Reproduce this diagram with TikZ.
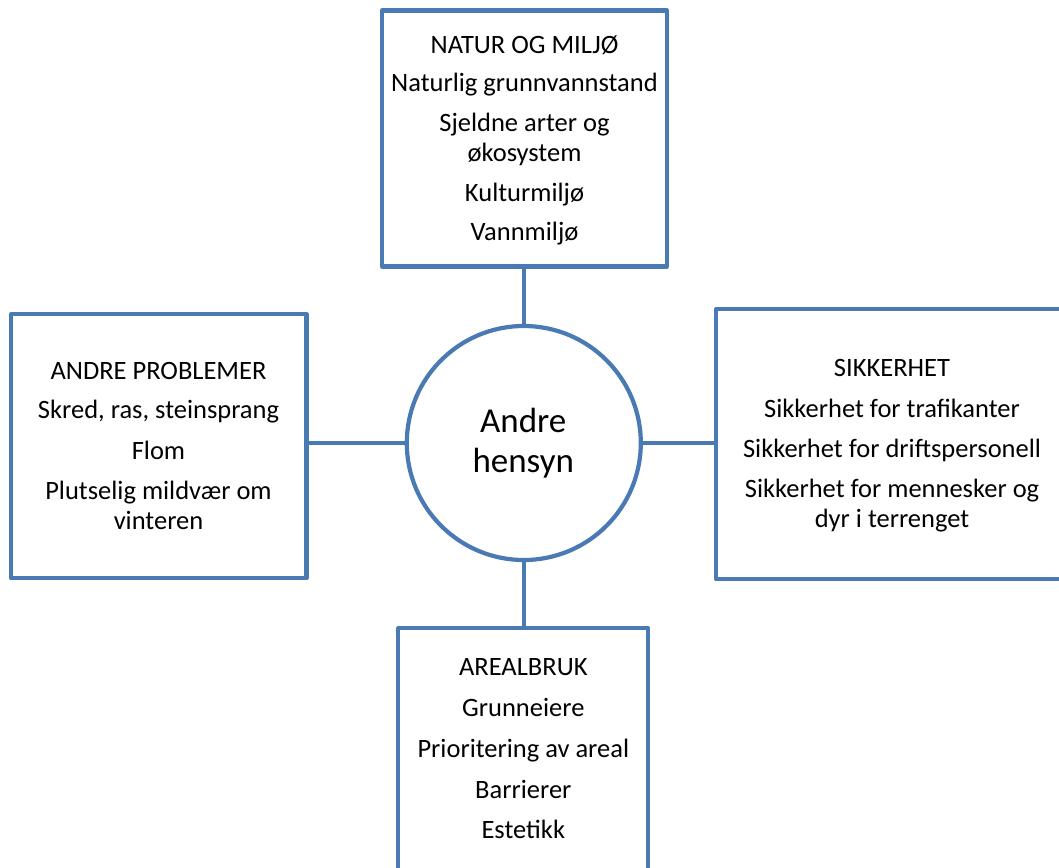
\documentclass[tikz,border=0pt]{standalone}
\usepackage{fontspec}
\setmainfont{Carlito}
\definecolor{boxblue}{RGB}{74,122,180}
\begin{document}
\begin{tikzpicture}[x=1pt,y=-1pt,
  frame/.style={draw=boxblue,line width=4.2pt,line join=round,fill=white,rectangle,inner sep=0pt},
  hubstyle/.style={draw=boxblue,line width=4.2pt,fill=white,circle,inner sep=0pt,minimum size=234pt},
  link/.style={draw=boxblue,line width=4.2pt},
  txt/.style={anchor=base,inner sep=0pt,font=\fontsize{26.5}{30}\selectfont},
  bigtxt/.style={anchor=base,inner sep=0pt,font=\fontsize{35}{40}\selectfont}]
\useasboundingbox[fill=white] (0,0) rectangle (1059,867);
% boxes
\node[frame,minimum width=285pt,minimum height=256pt] (top) at (524.5,138.5) {};
\node[frame,minimum width=295.5pt,minimum height=264pt] (left) at (158.8,446.3) {};
\node[frame,minimum width=356pt,minimum height=270pt] (right) at (894,444.3) {};
\node[frame,minimum width=250pt,minimum height=260pt] (bottom) at (523.3,758.3) {};
\node[hubstyle] (hub) at (523.8,443) {};
% connectors
\draw[link] (hub.north) -- (hub.north |- top.south);
\draw[link] (hub.south) -- (hub.south |- bottom.north);
\draw[link] (hub.west) -- (hub.west -| left.east);
\draw[link] (hub.east) -- (hub.east -| right.west);
% hub text
\node[bigtxt] (h1) at (523.3,432.3) {Andre};
\node[bigtxt] (h2) at (523.3,472.7) {hensyn};
% top box text
\node[txt] (a1) at (524.5,53) {NATUR OG MILJØ};
\node[txt] (a2) at (524.5,91.5) {Naturlig grunnvannstand};
\node[txt] (a3) at (524.5,131.5) {Sjeldne arter og};
\node[txt] (a4) at (524.5,161.5) {økosystem};
\node[txt] (a5) at (524.5,201.5) {Kulturmiljø};
\node[txt] (a6) at (524.5,240.5) {Vannmiljø};
% left box text
\node[txt] (b1) at (158.5,379.5) {ANDRE PROBLEMER};
\node[txt] (b2) at (158.5,418.5) {Skred, ras, steinsprang};
\node[txt] (b3) at (158.5,459) {Flom};
\node[txt] (b4) at (158.5,499) {Plutselig mildvær om};
\node[txt] (b5) at (158.5,529) {vinteren};
% right box text
\node[txt] (c1) at (892,376) {SIKKERHET};
\node[txt] (c2) at (892,417) {Sikkerhet for trafikanter};
\node[txt] (c3) at (892,457.5) {Sikkerhet for driftspersonell};
\node[txt] (c4) at (892,497.5) {Sikkerhet for mennesker og};
\node[txt] (c5) at (892,527.5) {dyr i terrenget};
% bottom box text
\node[txt] (d1) at (523.3,675) {AREALBRUK};
\node[txt] (d2) at (523.3,716.5) {Grunneiere};
\node[txt] (d3) at (523.3,757) {Prioritering av areal};
\node[txt] (d4) at (523.3,798) {Barrierer};
\node[txt] (d5) at (523.3,838.3) {Estetikk};
\end{tikzpicture}
\end{document}
